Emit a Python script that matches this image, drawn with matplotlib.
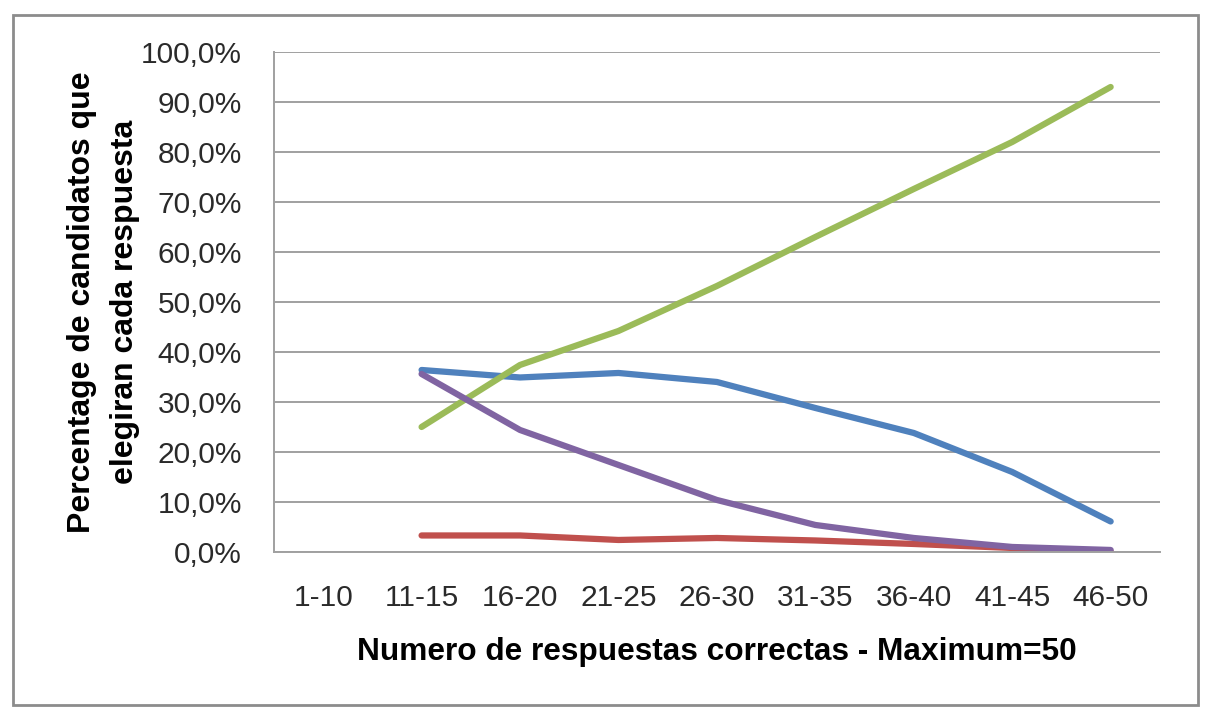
import numpy as np
import matplotlib.pyplot as plt
from matplotlib.patches import Rectangle

categories = ['1-10', '11-15', '16-20', '21-25', '26-30', '31-35', '36-40', '41-45', '46-50']
# percentage values per category (1-10 has no data)
blue = [np.nan, 36.4, 34.9, 35.8, 34.0, 28.8, 23.8, 16.0, 6.1]
red = [np.nan, 3.3, 3.3, 2.4, 2.8, 2.3, 1.6, 0.8, 0.1]
green = [np.nan, 25.0, 37.4, 44.2, 53.2, 63.0, 72.6, 82.0, 93.0]
purple = [np.nan, 35.6, 24.4, 17.4, 10.4, 5.4, 2.8, 1.0, 0.4]
yticks = [0, 10, 20, 30, 40, 50, 60, 70, 80, 90, 100]

plt.rcParams['font.family'] = ['Liberation Sans', 'DejaVu Sans']

fig = plt.figure(figsize=(12.12, 7.22), dpi=100)
ax = fig.add_axes([0.226, 0.2355, 0.731, 0.6925])

x = np.arange(len(categories))
lw = 4.5
ax.plot(x, blue, color='#4F81BD', linewidth=lw, solid_capstyle='round')
ax.plot(x, red, color='#C0504D', linewidth=lw, solid_capstyle='round')
ax.plot(x, green, color='#9BBB59', linewidth=lw, solid_capstyle='round')
ax.plot(x, purple, color='#8064A2', linewidth=lw, solid_capstyle='round')

ax.set_xlim(-0.5, len(categories) - 0.5)
ax.set_ylim(0, 100)
ax.set_yticks(yticks)
ax.set_yticklabels([f'{v:.1f}%'.replace('.', ',') for v in yticks])
ax.set_xticks(x)
ax.set_xticklabels(categories)
ax.tick_params(axis='both', length=0, labelsize=21.5, colors='#2A2A2A')
ax.tick_params(axis='y', pad=23)
ax.tick_params(axis='x', pad=23)

ax.grid(axis='y', color='#A0A0A0', linewidth=1.4)
ax.set_axisbelow(True)
for s in ['top', 'right']:
    ax.spines[s].set_visible(False)
for s in ['left', 'bottom']:
    ax.spines[s].set_color('#A0A0A0')
    ax.spines[s].set_linewidth(1.4)

ax.set_xlabel('Numero de respuestas correctas - Maximum=50', fontsize=22.8,
              fontweight='bold', labelpad=18)
ax.set_ylabel('Percentage de candidatos que\nelegiran cada respuesta', fontsize=23,
              fontweight='bold', labelpad=1, linespacing=1.55)

fig.patches.append(Rectangle((13 / 1212, 1 - 705 / 722), 1185 / 1212, 690 / 722,
                             transform=fig.transFigure, fill=False,
                             edgecolor='#8C8C8C', linewidth=2))

fig.savefig('out.png', dpi=100)
